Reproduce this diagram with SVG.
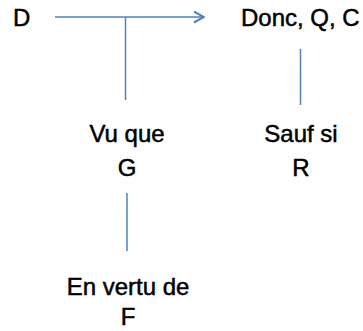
<svg xmlns="http://www.w3.org/2000/svg" width="363" height="331" viewBox="0 0 363 331">
<style>
text{font-family:"Liberation Sans",Arial,sans-serif;font-size:24px;fill:#000;stroke:#000;stroke-width:0.5}
.c{text-anchor:middle}
.ln{stroke:#4F81BD;stroke-width:1.5;fill:none}
</style>
<defs>
<marker id="ah" viewBox="0 0 12 13" refX="11" refY="6.5" markerWidth="12" markerHeight="13" markerUnits="userSpaceOnUse" orient="auto">
<path d="M1,1 L11,6.5 L1,12" fill="none" stroke="#4F81BD" stroke-width="2"/>
</marker>
</defs>
<rect width="363" height="331" fill="#fff"/>
<g id="connectors">
<line class="ln" x1="55" y1="17" x2="204" y2="17" marker-end="url(#ah)"/>
<line class="ln" x1="125.5" y1="17" x2="125.5" y2="100"/>
<line class="ln" x1="300.5" y1="49" x2="300.5" y2="105"/>
<line class="ln" x1="127" y1="193" x2="127" y2="251"/>
</g>
<g id="D"><text x="13" y="26">D</text></g>
<g id="C"><text x="241" y="26">Donc, Q, C</text></g>
<g id="G"><text class="c" x="127" y="142">Vu que</text><text class="c" x="127" y="176">G</text></g>
<g id="R"><text class="c" x="301" y="142">Sauf si</text><text class="c" x="301" y="176">R</text></g>
<g id="F"><text class="c" x="128" y="295">En vertu de</text><text class="c" x="128" y="325">F</text></g>
</svg>
